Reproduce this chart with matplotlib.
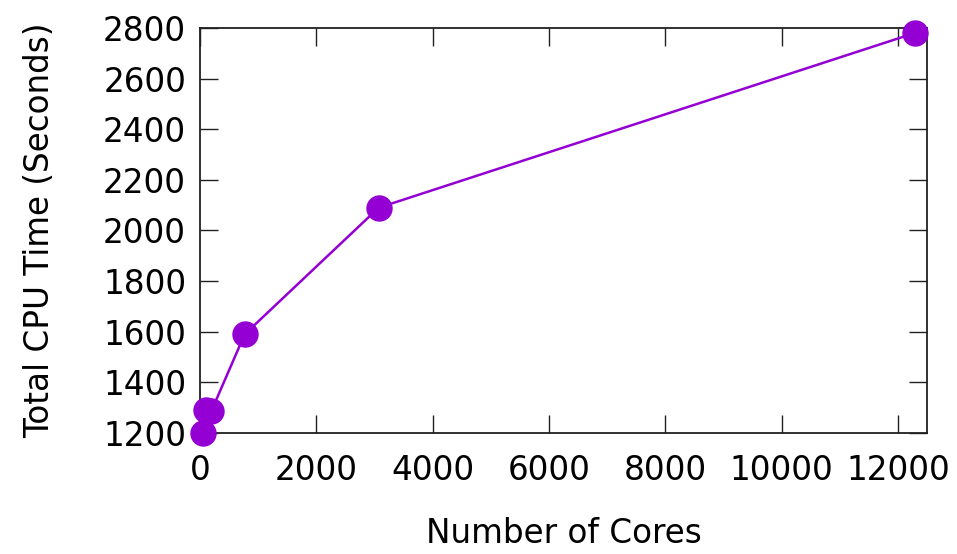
import matplotlib
matplotlib.use("Agg")
import matplotlib.pyplot as plt

# cores vs total CPU time
cores = [48, 96, 192, 768, 3072, 12288]
cpu_time = [1200, 1290, 1285, 1590, 2090, 2780]

xticks = [0, 2000, 4000, 6000, 8000, 10000, 12000]
yticks = [1200, 1400, 1600, 1800, 2000, 2200, 2400, 2600, 2800]

plt.rcParams['font.family'] = ['DejaVu Sans']
plt.rcParams['font.size'] = 23.5

fig = plt.figure(figsize=(9.57, 5.54), dpi=100)
ax = fig.add_axes([0.209, 0.2184, 0.7597, 0.7311])

ax.plot(cores, cpu_time, color='#9400d3', linewidth=1.8,
        marker='o', markersize=18, clip_on=False, zorder=3)

ax.set_xlim(0, 12500)
ax.set_ylim(1200, 2800)
ax.set_xticks(xticks)
ax.set_yticks(yticks)

ax.tick_params(direction='in', length=13, width=1.0, top=True, right=True,
               color='#202020')
ax.tick_params(axis='x', pad=15)
ax.tick_params(axis='y', pad=10)
for s in ax.spines.values():
    s.set_linewidth(1.3)
    s.set_color('#202020')

ax.set_xlabel('Number of Cores', labelpad=22)
ax.set_ylabel('Total CPU Time (Seconds)', labelpad=34)

fig.savefig('out.png', dpi=100)
